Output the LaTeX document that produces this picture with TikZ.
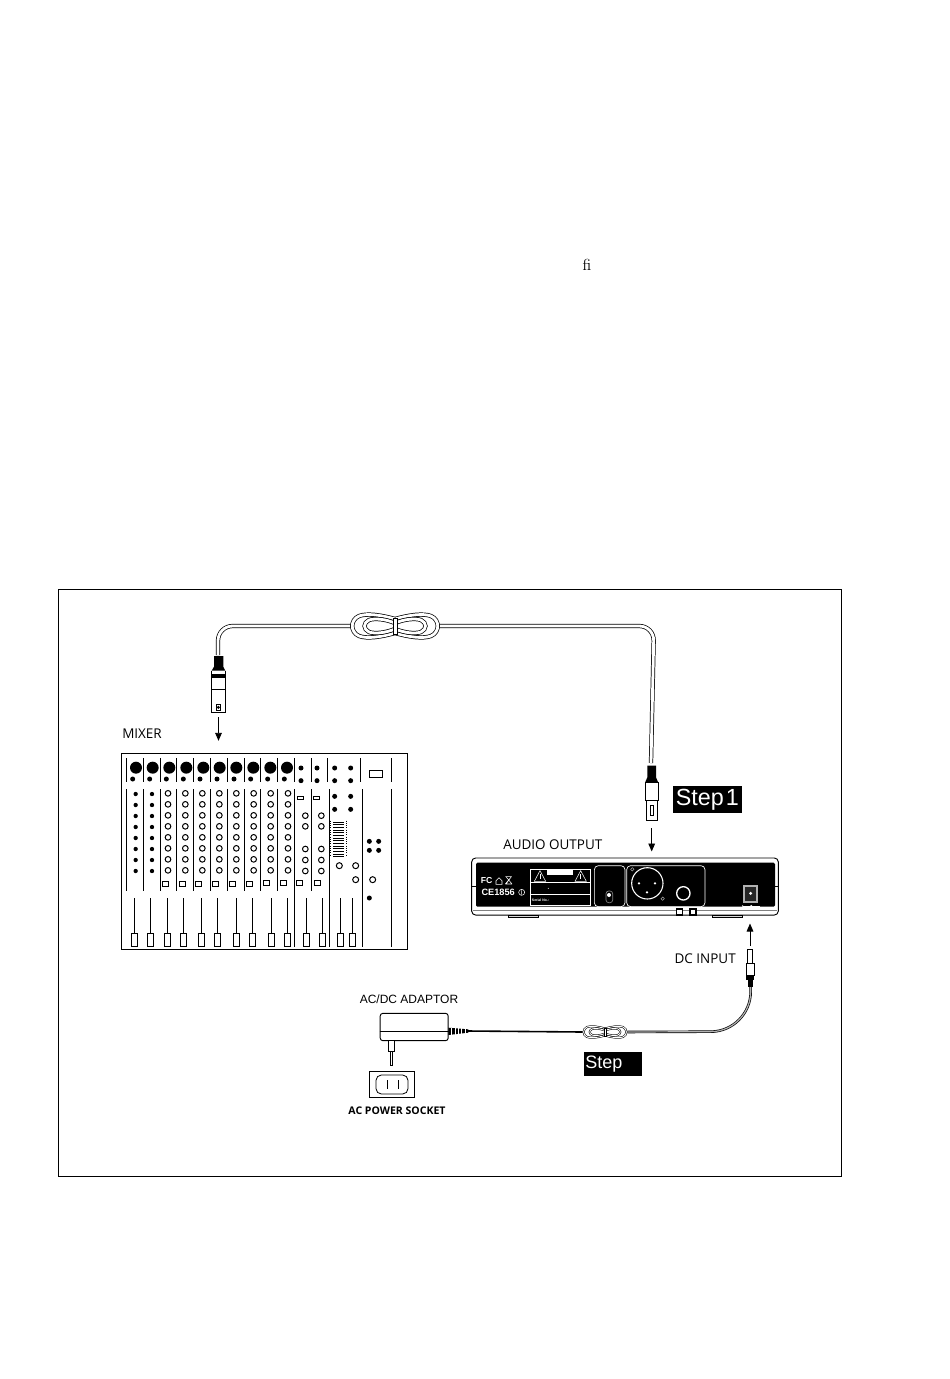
\documentclass[tikz,border=0pt]{standalone}
\usepackage{fontspec}
\newfontfamily\labelfont{Open Sans}
\newfontfamily\arialfont{Liberation Sans}
\usetikzlibrary{arrows.meta}
\tikzset{
    cable/.style = {draw = black,line width = 0.55pt,double = white,double distance = 2.1pt},
    thincable/.style = {draw = black,line width = 0.4pt,double = white,double distance = 0.7pt},
    flowarrow/.style = {line width = 0.7pt,-{Triangle[length = 6pt,width = 5pt]}},
    tag/.style = {font = {\labelfont\fontsize{10.1}{11}\selectfont},inner sep = 0pt},
    steptag/.style = {fill = black,text = white,inner sep = 0pt,font = \arialfont},
    knob/.style = {fill = black},
    ring/.style = {line width = 0.75pt},
    strip/.style = {line width = 0.6pt}
}
\newcommand{\cablecoil}[4]{
    \begin{scope}[shift = {(#1)},x = #2*0.75pt,y = -#2*0.75pt]
        \foreach \s in {1,-1} {
            \draw[#3] (0,-7) .. controls (\s*14,-11) and (\s*28,-13) .. (\s*36,-10) .. controls (\s*45,-6) and (\s*45,6) .. (\s*36,10) .. controls (\s*28,13) and (\s*14,11) .. (0,7);
            \draw[#3] (0,-3) .. controls (\s*10,-7) and (\s*20,-8) .. (\s*26,-6) .. controls (\s*32,-3) and (\s*32,3) .. (\s*26,6) .. controls (\s*20,8) and (\s*10,7) .. (0,3);
        }
        \draw[fill = white,line width = #4] (-2,-8) rectangle (2,8);
    \end{scope}
}
\begin{document}
\begin{tikzpicture}[x = 0.75pt,y = -0.75pt]
    \useasboundingbox (0,0) rectangle (950,1379);
    \node[inner sep = 0pt,font = \fontsize{12}{12}\selectfont] (fi) at (587,265) {fi};
    \node[draw,line width = 0.6pt,inner sep = 0pt,minimum width = 587.4pt,minimum height = 440.2pt] (frame) at (449.7,882.5) {};

    % mixer
    \node[draw,line width = 0.75pt,inner sep = 0pt,minimum width = 214.2pt,minimum height = 147pt] (mixer) at (264.5,851.3) {};
    \node[tag,anchor = west] (mixertag) at (122,733.5) {MIXER};
    \begin{scope}[shift = {(110,720)},x = 0.25pt,y = -0.25pt]
        \foreach \x in {50,100,152,200,251,302,352,402,452,503,553,604,653,752,844}
            \draw[strip] (\x,115) -- (\x,187);
        \foreach \x in {50,100,152,198,250,302,352,402,452,503,604}
            \draw[strip] (\x,208) -- (\x,513);
        \foreach \x in {553,658,757,844}
            \draw[strip] (\x,208) -- (\x,680);
        \foreach \x in {78,128,178,229,280,329,379,430,481,531}
            \fill[knob] (\x,143) circle (18);
        \foreach \x in {68,119,169,220,270,321,372,422,473,523}
            \fill[knob] (\x,177) circle (7.5);
        \foreach \x/\y in {573/144,573/182,621/144,621/182,674/144,674/182,722/144,722/182,674/229,722/229,674/268,722/268,778/364,806/364,778/391,806/391,778/534}
            \fill[knob] (\x,\y) circle (7.5);
        \draw[strip] (778,152) rectangle (818,172);
        \foreach \x in {77,126}
            \foreach \y in {222,255,288,321,354,387,420,453}
                \fill[knob] (\x,\y) circle (6.5);
        \foreach \x in {174,226,277,328,379,431,482,534}
            \foreach \y in {220,253,286,319,352,385,418,451}
                \draw[ring] (\x,\y) circle (8.5);
        \foreach \x in {586,634}
            \foreach \y in {287,319,387,420,453}
                \draw[ring] (\x,\y) circle (8.5);
        \foreach \x/\y in {688/437,737/437,737/479,788/479}
            \draw[ring] (\x,\y) circle (9);
        \foreach \x/\y in {167/491,217/491,265/491,316/491,367/491,418/491,468/488,520/488,568/488,622/488}
            \draw[strip] (\x-9,\y-7) rectangle (\x+9,\y+7);
        \foreach \x in {571,619}
            \draw[strip] (\x-9,228) rectangle (\x+9,238);
        \foreach \y in {306,314,...,410}
            \draw[line width = 0.5pt] (670,\y) -- (702,\y);
        \foreach \x in {660,710}
            \draw[line width = 0.7pt,densely dotted] (\x,302) -- (\x,410);
        \foreach \x in {72,121,172,220,274,322,379,427,484,532,589,636,691,727} {
            \draw[strip] (\x,535) -- (\x,640);
            \draw[strip,fill = white] (\x-9,640) rectangle (\x+9,680);
        }
    \end{scope}

    % plug at the mixer
    \node[draw,line width = 0.7pt,fill = white,inner sep = 0pt,minimum width = 10.3pt,minimum height = 17.5pt] (plugA) at (218.5,701) {};
    \coordinate (plugtopA) at (218,655);
    \coordinate (bendA) at (218,626);
    \begin{scope}[shift = {(200,600)},x = 0.25pt,y = -0.25pt]
        \fill (42,168) -- (70,168) -- (70,200) -- (76,212) -- (35,212) -- (42,200) -- cycle;
        \fill (35,222) rectangle (76,235);
        \draw[strip] (35,212) -- (35,268) (76,212) -- (76,268);
        \draw[line width = 0.4pt,fill = white] (48,312) rectangle (62,332);
        \fill (55,322) circle (5);
    \end{scope}

    % plug at the receiver
    \node[draw,line width = 0.7pt,fill = white,inner sep = 0pt,minimum width = 8.5pt,minimum height = 15pt] (plugB) at (651.7,810) {};
    \coordinate (plugtopB) at (651,763);
    \coordinate (bendB) at (654,626);
    \begin{scope}[shift = {(630,740)},x = 0.25pt,y = -0.25pt]
        \fill (52,77) -- (78,77) -- (78,112) -- (85,128) -- (45,128) -- (52,112) -- cycle;
        \draw[strip] (45,128) rectangle (85,180);
        \draw[strip] (60,195) rectangle (70,225);
    \end{scope}

    % top cable
    \node[inner sep = 0pt,minimum width = 65pt,minimum height = 19pt] (coilA) at (395,626) {};
    \draw[cable,rounded corners = 11pt] (plugtopA) -- (bendA) -- (coilA.west);
    \draw[cable,rounded corners = 11pt] (coilA.east) -- (bendB) -- (plugtopB);
    \cablecoil{395,626}{1}{cable}{0.5pt}

    % receiver
    \node[draw,line width = 0.7pt,fill = white,rounded corners = 3pt,inner sep = 0pt,minimum width = 230pt,minimum height = 42.8pt] (device) at (625,886.5) {};
    \node[tag,anchor = west] (audiotag) at (503,845) {AUDIO OUTPUT};
    \begin{scope}[shift = {(460,760)},x = 0.25pt,y = -0.25pt]
        \fill[rounded corners = 1pt] (48,308) rectangle (945,440);
        \draw[line width = 0.5pt,gray] (40,452) -- (950,452);
        \draw[line width = 0.5pt] (35,380) -- (48,380) (945,380) -- (955,380);
        \foreach \x in {145,757}
            \draw[line width = 0.6pt,fill = gray!30] (\x,465) rectangle (\x+90,473);
        \foreach \x in {650,690}
            \draw[line width = 0.8pt,fill = white] (\x,447) rectangle (\x+18,465);
        \draw[white,line width = 0.5pt] (210,328) rectangle (392,435) (210,367) -- (392,367) (210,403) -- (392,403);
        \fill[white] (262,328) rectangle (340,344);
        \foreach \x in {240,362}
            \draw[white,line width = 0.4pt] (\x-17,364) -- (\x,332) -- (\x+17,364) -- cycle;
        \foreach \x in {240,362}
            \draw[white,line width = 0.4pt] (\x,342) -- (\x,358);
        \node[text = white,inner sep = 0pt,font = {\arialfont\bfseries\fontsize{2.6}{3}\selectfont},anchor = west] (serial) at (215,420) {Serial No.:};
        \fill[white] (265,385) circle (1.5);
        \node[text = white,inner sep = 0pt,font = {\arialfont\bfseries\fontsize{6.5}{8}\selectfont},anchor = west] (fcmark) at (62,363) {FC};
        \draw[white,line width = 0.4pt] (108,373) -- (108,362) -- (117,353) -- (126,362) -- (126,373) -- cycle;
        \draw[white,line width = 0.4pt] (136,350) -- (154,350) -- (138,372) -- (156,372) (136,372) -- (154,350) (138,350) -- (156,372);
        \node[text = white,inner sep = 0pt,font = {\arialfont\bfseries\fontsize{6.9}{8}\selectfont},anchor = west] (cemark) at (64,397) {CE1856};
        \draw[white,line width = 0.4pt] (185,397) circle (9) (185,391) -- (185,403);
        \draw[white,line width = 0.5pt,rounded corners = 3pt] (403,317) rectangle (495,440) (500,317) rectangle (735,440);
        \draw[gray,line width = 0.5pt,fill = black,rounded corners = 2pt] (438,393) rectangle (458,428);
        \fill[white] (447,405) circle (6);
        \draw[white,line width = 0.8pt] (562,370) circle (47);
        \foreach \x/\y in {537/370,585/370,561/397}
            \fill[white] (\x,\y) circle (4);
        \draw[white,line width = 1pt] (670,400) circle (20);
        \draw[gray!70,line width = 0.4pt] (517,328) circle (5) (608,416) circle (5);
        \fill[gray!60] (850,375) rectangle (895,430);
        \fill[black!85] (856,381) rectangle (889,424);
        \fill[white] (872,400) circle (5);
        \draw[white,line width = 0.5pt] (850,438) -- (900,438);
        \fill[white] (848,438) circle (2.5) (874,438) circle (3.5);
    \end{scope}

    % steps
    \node[steptag,minimum width = 51.5pt,minimum height = 20pt,font = {\arialfont\fontsize{17.5}{18}\selectfont}] (stepone) at (707.3,799.3) {Step\kern1.5pt 1};
    \node[steptag,minimum width = 43.3pt,minimum height = 18pt,font = {\arialfont\fontsize{13.5}{14}\selectfont},text width = 41pt,align = left] (steptwo) at (612.8,1064) {Step};

    % adaptor
    \node[draw,line width = 0.7pt,fill = white,rounded corners = 2pt,inner sep = 0pt,minimum width = 51pt,minimum height = 20.5pt] (adaptor) at (414.2,1027) {};
    \node[inner sep = 0pt,font = {\arialfont\fontsize{9}{10}\selectfont}] (adaptortag) at (409,999) {AC/DC ADAPTOR};
    \draw[line width = 0.5pt] (adaptor.west |- 0,1031.7) -- (adaptor.east |- 0,1031.7);
    \begin{scope}[shift = {(340,980)},x = 0.25pt,y = -0.25pt]
        \draw[strip,fill = white] (145,182) rectangle (162,215);
        \draw[strip,fill = white] (150,215) rectangle (158,255);
        \fill (325,143) -- (385,148) -- (385,158) -- (325,165) -- cycle;
        \foreach \x in {335,345,355,365,375}
            \draw[white,line width = 0.3pt] (\x,144) -- (\x,165);
    \end{scope}
    \coordinate (strainend) at (468,1031);
    \node[draw,line width = 0.75pt,inner sep = 0pt,minimum width = 33.5pt,minimum height = 19.5pt] (socket) at (391.7,1084.3) {};
    \begin{scope}[shift = {(340,980)},x = 0.25pt,y = -0.25pt]
        \draw[strip,rounded corners = 4pt] (108,285) rectangle (204,342);
        \draw[strip] (143,300) -- (143,328) (175,300) -- (175,328);
    \end{scope}
    \node[inner sep = 0pt,font = {\labelfont\bfseries\fontsize{7.9}{8}\selectfont}] (sockettag) at (397,1110.5) {AC POWER SOCKET};

    % plug at the dc input
    \node[draw,line width = 0.7pt,fill = white,inner sep = 0pt,minimum width = 4pt,minimum height = 10.5pt] (plugC) at (750,956) {};
    \node[tag,anchor = east] (dctag) at (736,959) {DC INPUT};
    \begin{scope}[shift = {(660,900)},x = 0.25pt,y = -0.25pt]
        \draw[strip,fill = white] (258,190) rectangle (282,225);
        \fill (258,225) rectangle (282,240);
        \fill (265,240) rectangle (278,262);
    \end{scope}
    \coordinate (plugendC) at (750.7,987);
    \coordinate (bendC) at (750.7,1031.5);

    % lower cable
    \node[inner sep = 0pt,minimum width = 33pt,minimum height = 10pt] (coilB) at (605,1032) {};
    \draw[line width = 1.2pt] (strainend) -- (coilB.west);
    \draw[line width = 0.5pt,double = gray!60,double distance = 0.9pt,rounded corners = 30pt] (coilB.east) -- (bendC) -- (plugendC);
    \cablecoil{605,1032}{0.5}{thincable}{0.3pt}

    % arrows
    \draw[flowarrow,shorten < = 3.2pt,shorten > = 9pt] (plugA.south) -- (plugA.south |- mixer.north);
    \draw[flowarrow,shorten < = 6pt,shorten > = 4.5pt] (plugB.south) -- (plugB.south |- device.north);
    \draw[flowarrow,shorten < = 2pt,shorten > = 6pt] (plugC.north) -- (plugC.north |- device.south);
\end{tikzpicture}
\end{document}
